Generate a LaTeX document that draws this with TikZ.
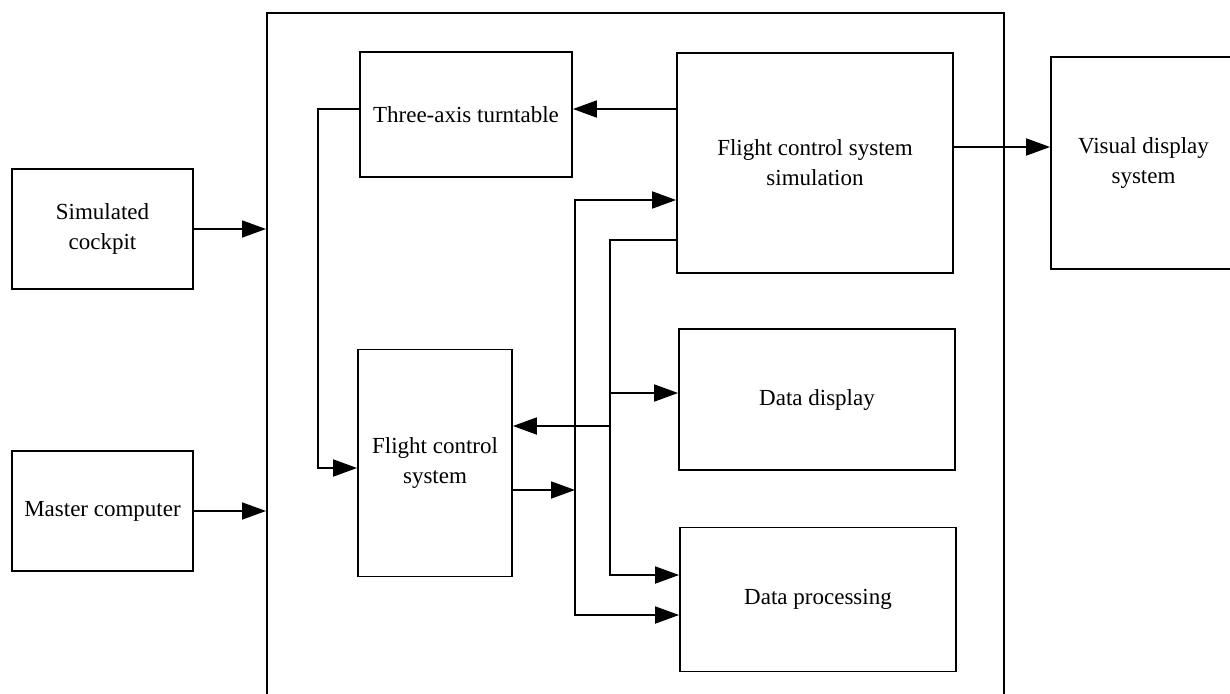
\documentclass[tikz,border=0pt]{standalone}
\usepackage{fontspec}
\setmainfont{Liberation Serif}
\usetikzlibrary{arrows.meta}
\tikzset{
  blk/.style={draw,line width=1.8pt,align=center,inner sep=0pt,font=\fontsize{23}{30}\selectfont},
  arr/.style={line width=1.8pt,-{Triangle[length=24pt,width=17pt]}},
  darr/.style={line width=1.8pt,{Triangle[length=24pt,width=17pt]}-{Triangle[length=24pt,width=17pt]}}
}
\begin{document}
\begin{tikzpicture}[x=1pt,y=-1pt]
\clip(0,0)rectangle(1230,693);
\fill[white](0,0)rectangle(1230,693);
\node[blk,anchor=north west,minimum width=737pt,minimum height=700pt](sim)at(266,12){};
\node[blk,minimum width=181pt,minimum height=120pt](cp)at(102.5,229){Simulated\\cockpit};
\node[blk,minimum width=181pt,minimum height=120pt](mc)at(102.5,511){Master computer};
\node[blk,minimum width=212pt,minimum height=125pt](tt)at(466,114.5){Three-axis turntable};
\node[blk,minimum width=276pt,minimum height=220pt](fcss)at(815,163){Flight control system\\simulation};
\node[blk,minimum width=185pt,minimum height=212pt](vis)at(1143.5,163){Visual display\\system};
\node[blk,minimum width=154pt,minimum height=227pt](fcs)at(435,463){Flight control\\system};
\node[blk,minimum width=276pt,minimum height=141pt](dd)at(817,399.5){Data display};
\node[blk,minimum width=276pt,minimum height=144pt](dp)at(818,599.5){Data processing};
\draw[arr](cp.east)--(sim.west|-cp.east);
\draw[arr](mc.east)--(sim.west|-mc.east);
\draw[arr](fcss.west|-0,109)--(tt.east|-0,109);
\draw[arr](tt.west|-0,109)--(318,109)|-(fcs.west|-0,468);
\draw[arr](fcss.east|-0,147)--(vis.west|-0,147);
\draw[darr](fcss.west|-0,200)-|(575,615)--(dp.west|-0,615);
\draw[arr](fcs.east|-0,490)--(575,490);
\draw[arr](fcss.west|-0,240)-|(610,575)--(dp.west|-0,575);
\draw[arr](610,393)--(dd.west|-0,393);
\draw[arr](610,426)--(fcs.east|-0,426);
\end{tikzpicture}
\end{document}
